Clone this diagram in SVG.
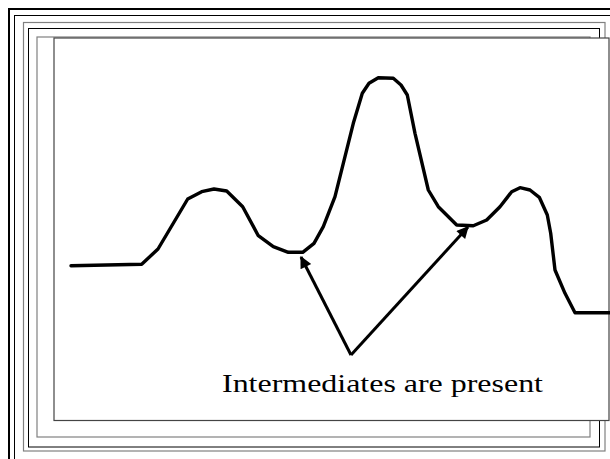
<svg xmlns="http://www.w3.org/2000/svg" width="610" height="459" viewBox="0 0 610 459">
<style>
.f{fill:none}
.k{stroke:#000}
.g{stroke:#808080}
.curve{fill:none;stroke:#000;stroke-width:3.4;stroke-linejoin:round;stroke-linecap:round}
.arr{fill:none;stroke:#000;stroke-width:3}
.lbl{font-family:"Liberation Serif","Times New Roman",serif;font-size:26px;fill:#000}
</style>
<defs>
<marker id="ah" viewBox="0 0 10 10" refX="9" refY="5" markerWidth="4.5" markerHeight="4" orient="auto" markerUnits="strokeWidth">
<path d="M0,0 L10,5 L0,10 z" fill="#000"/>
</marker>
</defs>
<rect width="610" height="459" fill="#fff"/>
<g id="frames">
<rect class="f k" x="9" y="9" width="700" height="500" stroke-width="2"/>
<rect class="f k" x="14.5" y="15.5" width="700" height="500" stroke-width="1"/>
<rect class="f g" x="23.5" y="22.5" width="581.5" height="428.5" stroke-width="1.2"/>
<rect class="f k" x="28.5" y="28.5" width="571" height="418.5" stroke-width="1"/>
<rect class="f g" x="37" y="37" width="553" height="400" stroke-width="1.2"/>
<rect x="54" y="38" width="555" height="382.5" fill="#fff" stroke="#444" stroke-width="1.2"/>
</g>
<g id="energy-curve">
<polyline class="curve" points="71,265.7 141.7,264.3 158,249 187.7,199 201.7,191.7 214,189 226.7,191 242.7,206.7 258.3,235.7 273.3,246.7 288.3,252.3 302.7,252.3 314,243.3 323.3,226.7 335,196.7 343.3,163.3 353.3,123.3 362.3,93.3 369,83.3 378.3,77.7 393.3,78.3 401,85 407.3,95 415,133.3 428.3,190 438.3,206.7 456.7,225 473.3,225.7 486.7,220 500,206.7 511.7,191.7 520,187.7 530,190 539.3,197.3 547.3,215 550.7,233.3 555,270 565,293.3 575,312.7 610,312.7"/>
</g>
<g id="connectors">
<line class="arr" x1="351" y1="355" x2="301" y2="257" marker-end="url(#ah)"/>
<line class="arr" x1="351" y1="355" x2="468" y2="227" marker-end="url(#ah)"/>
</g>
<g id="label">
<text class="lbl" x="222" y="392" textLength="321" lengthAdjust="spacingAndGlyphs">Intermediates are present</text>
</g>
</svg>
